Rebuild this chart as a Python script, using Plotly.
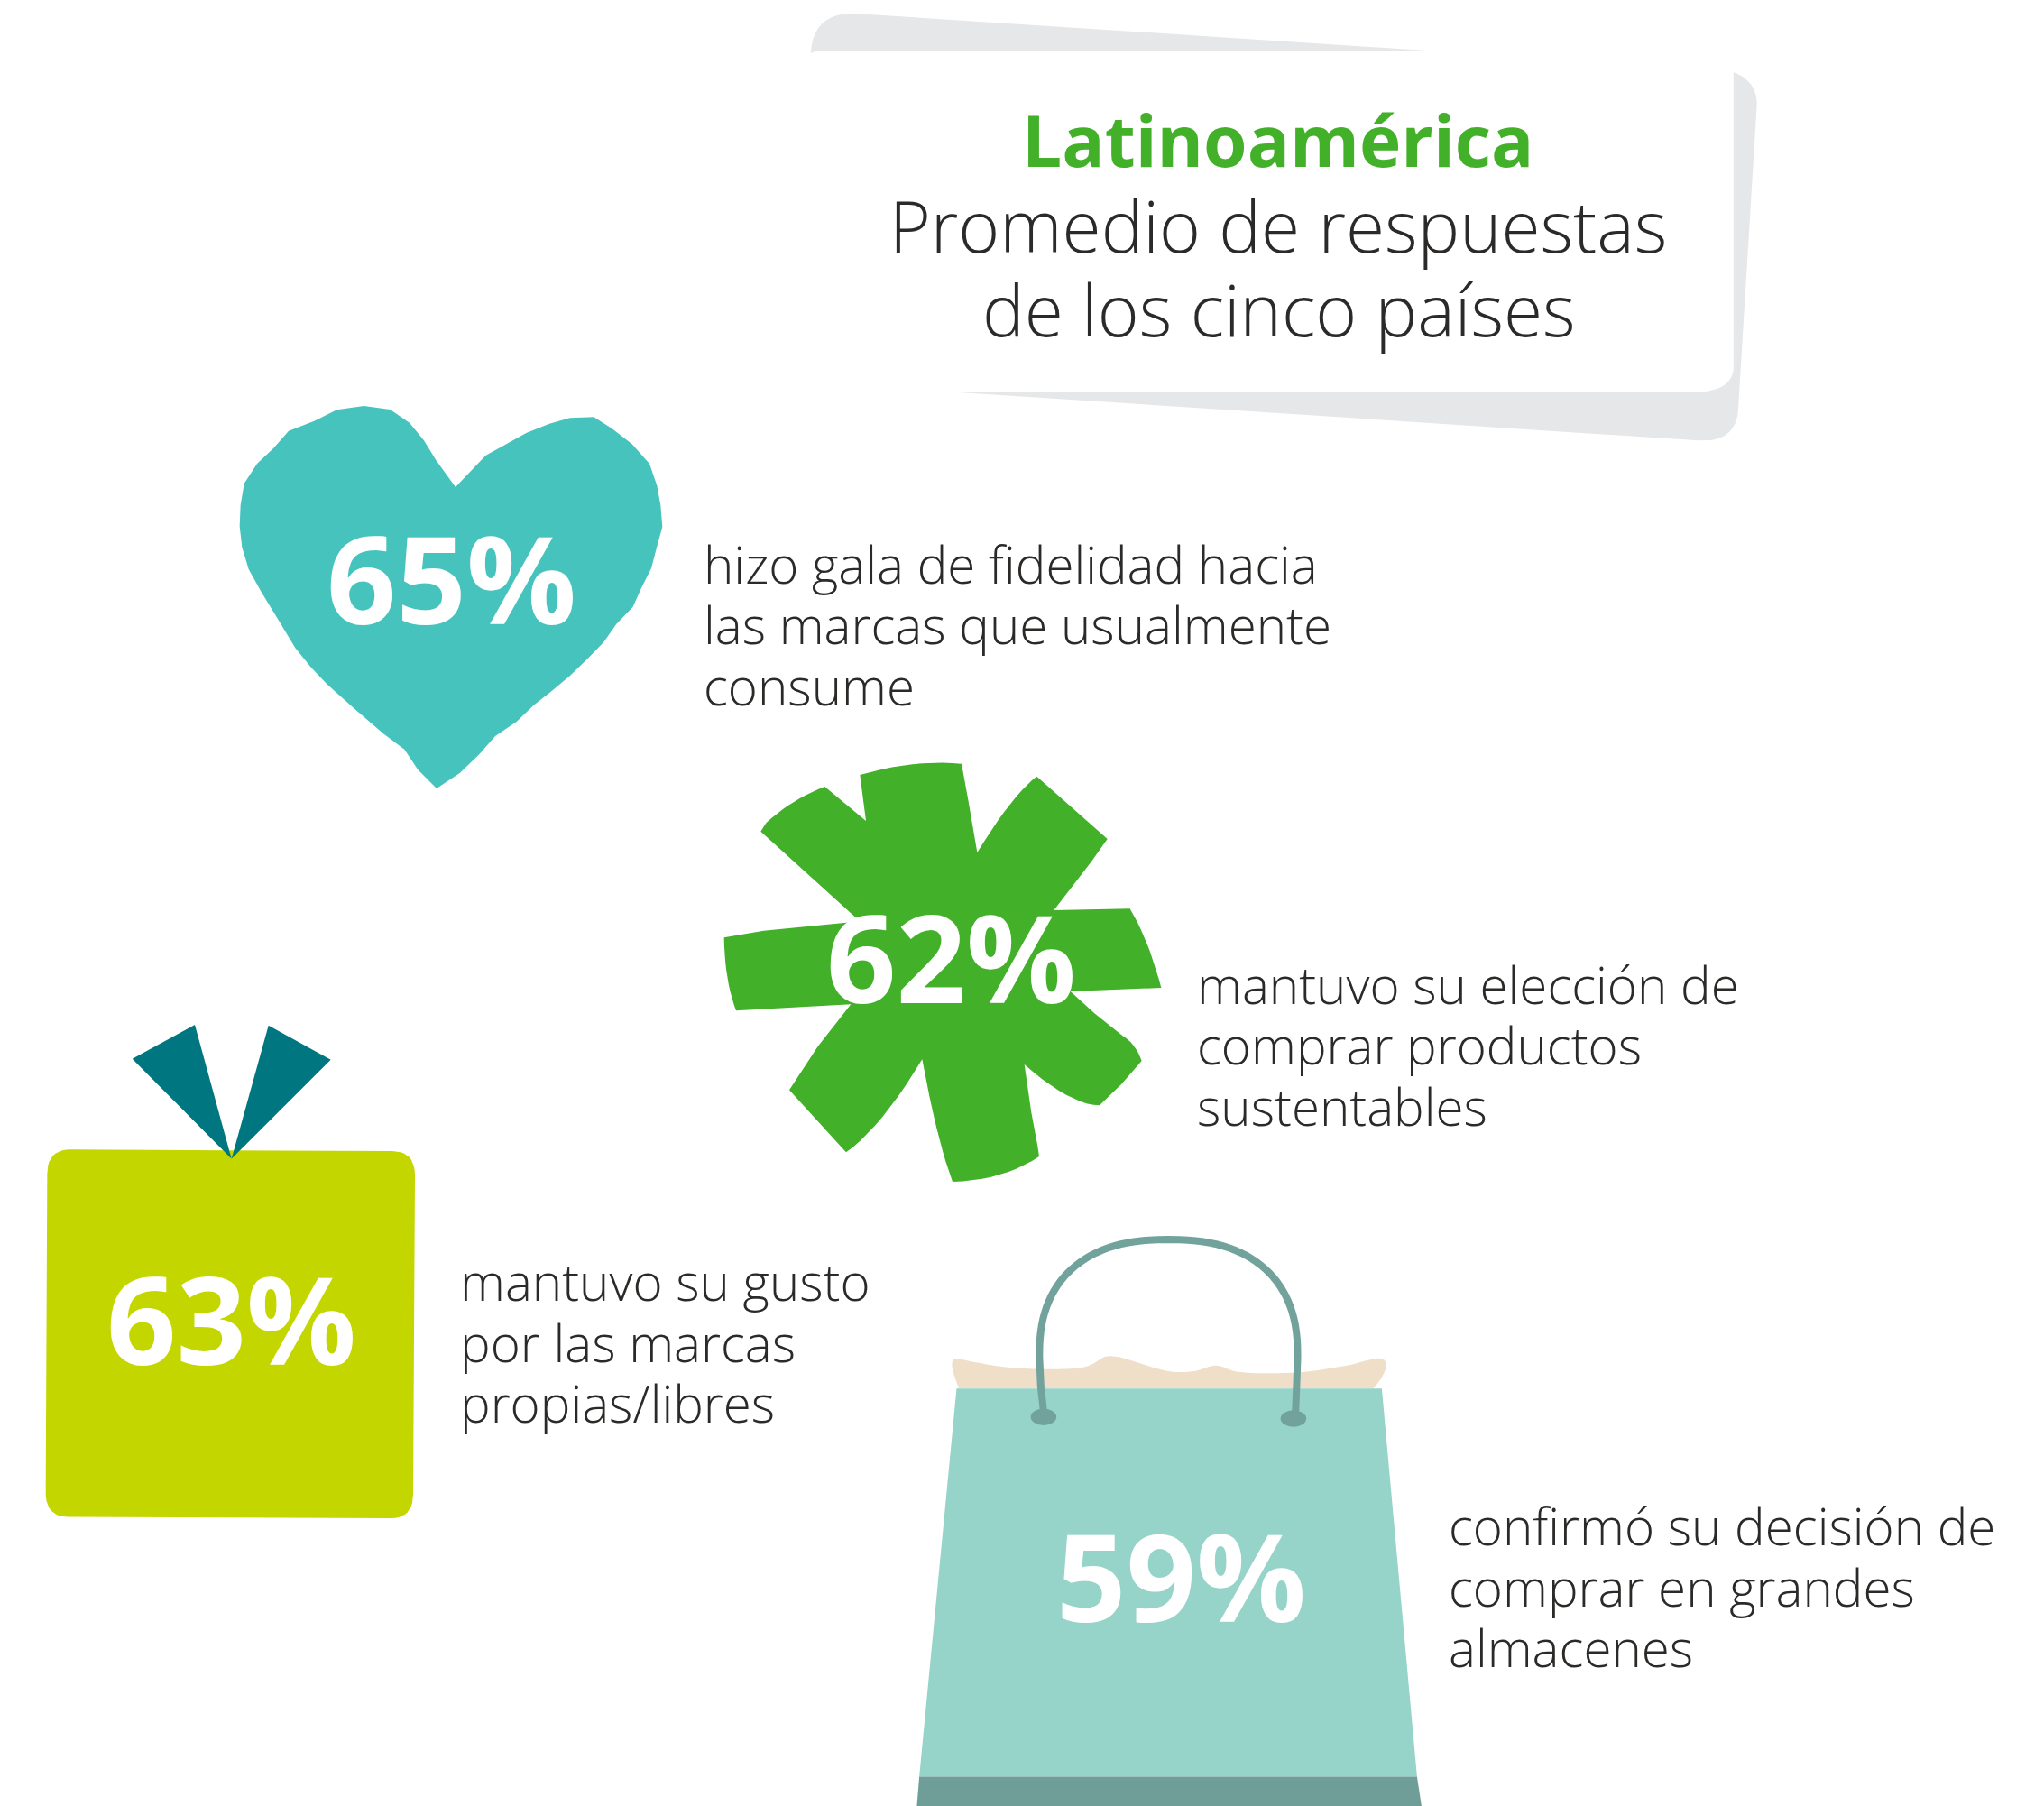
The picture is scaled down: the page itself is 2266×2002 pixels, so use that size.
import math
import plotly.graph_objects as go

W, H = 2266, 2002
FONT = "Open Sans"
INK = "#2b2a29"

# Values
percent_values = [65, 62, 63, 59]
percent_colors = ["#47c3bd", "#43b02a", "#c4d600", "#96d3c9"]
title_head = "Latinoamérica"
title_lines = ["Promedio de respuestas", "de los cinco países"]
captions = [
    ["hizo gala de fidelidad hacia", "las marcas que usualmente", "consume"],
    ["mantuvo su elección de", "comprar productos", "sustentables"],
    ["mantuvo su gusto", "por las marcas", "propias/libres"],
    ["confirmó su decisión de", "comprar en grandes", "almacenes"],
]


def tr(pts, ox, oy, sx, sy):
    return [p[0] / sx + ox for p in pts], [p[1] / sy + oy for p in pts]


def curve(p0, c, p1, n=10):
    """Outline of a soft corner or bowed edge of an illustration."""
    out = []
    for i in range(n + 1):
        t = i / n
        out.append(((1 - t) ** 2 * p0[0] + 2 * t * (1 - t) * c[0] + t ** 2 * p1[0],
                    (1 - t) ** 2 * p0[1] + 2 * t * (1 - t) * c[1] + t ** 2 * p1[1]))
    return out


def arch(cx, cy, rx, ry, power, n=60):
    """Rounded arch of the bag handle."""
    out = []
    for i in range(n + 1):
        a = math.pi * (1 - i / n)
        c, s = math.cos(a), math.sin(a)
        out.append((cx + rx * math.copysign(abs(c) ** (2 / power), c), cy - ry * abs(s) ** (2 / power)))
    return out


# Illustration outlines
CARD = (880, 0, 1568 / 1100, 3)
card_back = (curve((27, 175), (30, 50), (90, 44)) + [(1000, 168)]
             + curve((1485, 240), (1522, 270), (1522, 345))
             + curve((1492, 1375), (1485, 1472), (1430, 1465)) + [(260, 1305)])
card_front = (curve((27, 178), (28, 170), (45, 170)) + [(1000, 168), (1485, 168)]
              + curve((1485, 1230), (1480, 1305), (1420, 1305)) + [(260, 1305), (27, 1305)])

HEART = (250, 430, 3, 3)
heart = [(765,330),(865,225),(1000,150),(1075,120),(1145,100),(1225,97),(1285,135),(1352,187),(1410,252),(1435,325),(1447,390),(1453,462),(1433,535),(1416,600),(1383,665),(1355,728),(1300,785),(1258,845),(1205,900),(1145,958),(1085,1008),(1025,1055),(968,1110),(897,1158),(845,1217),(780,1280),(702,1332),(640,1270),(595,1202),(525,1150),(430,1068),(337,985),(285,930),(232,865),(175,770),(120,680),(77,603),(55,530),(47,460),(50,390),(62,318),(105,252),(160,200),(210,143),(295,110),(370,73),(460,60),(548,72),(612,116),(660,175),(700,240)]

STAR = (780, 830, 3, 3)
star = (curve((520, 87), (700, 35), (858, 50)) + [(880, 170), (910, 345)]
        + curve((910, 345), (1030, 150), (1108, 92)) + [(1343, 300), (1290, 375), (1220, 465), (1165, 537), (1418, 532)]
        + curve((1418, 532), (1480, 635), (1522, 795)) + [(1220, 807), (1300, 880)]
        + curve((1385, 950), (1435, 975), (1457, 1038)) + [(1390, 1115), (1317, 1186)]
        + curve((1317, 1186), (1220, 1185), (1067, 1050)) + [(1090, 1210)]
        + curve((1100, 1270), (1112, 1320), (1116, 1356))
        + curve((1116, 1356), (1000, 1435), (828, 1440))
        + curve((828, 1440), (790, 1340), (752, 1160)) + [(727, 1033)]
        + curve((727, 1033), (590, 1260), (474, 1342)) + [(285, 1135), (380, 990), (490, 850), (108, 871)]
        + curve((108, 871), (70, 770), (68, 628)) + [(200, 605), (490, 577), (510, 565), (190, 275), (208, 247)]
        + curve((208, 247), (290, 170), (403, 126)) + [(540, 240)])

GIFT = (30, 1120, 3, 1568 / 580)
gift_box = (curve((67, 490), (67, 417), (145, 417)) + curve((1215, 422), (1290, 422), (1290, 495))
            + curve((1284, 1450), (1284, 1522), (1210, 1522)) + curve((135, 1518), (62, 1518), (62, 1445)))
ribbon_left = [(350,145),(558,43),(680,445)]
ribbon_right = [(803,45),(1010,148),(680,445)]

BAG = (1000, 1350, 1568 / 600, 1568 / 652)
bag_paper = [(165,455),(145,395),(150,377),(200,383),(300,398),(470,403),(540,395),(590,370),(620,370),(780,410),(850,408),(910,394),(970,410),(1150,412),(1280,395),(1392,376),(1403,393),(1390,425),(1365,455)]
bag_body = [(158,455),(1390,455),(1492,1490),(50,1490)]
bag_base = [(50,1490),(1492,1490),(1505,1568),(43,1568)]
bag_handle = [(410, 515), (402, 450)] + arch(772, 370, 374, 312, 2.4) + [(1143, 450), (1140, 515)]
bag_knots = [(410,531),(1134,535)]

fig = go.Figure()


def poly(pts, frame, color, shape="linear"):
    x, y = tr(pts, *frame)
    fig.add_trace(go.Scatter(x=x, y=y, mode="lines", fill="toself", fillcolor=color,
                             line=dict(width=0, color=color, shape=shape), hoverinfo="skip", showlegend=False))


poly(card_back, CARD, "#e6e7e8")
poly(card_front, CARD, "#ffffff")
poly(heart, HEART, percent_colors[0])
poly(star, STAR, percent_colors[1])
poly(gift_box, GIFT, percent_colors[2])
poly(ribbon_left, GIFT, "#007681")
poly(ribbon_right, GIFT, "#007681")
poly(bag_paper, BAG, "#efdfc9", "spline")
poly(bag_body, BAG, percent_colors[3])
poly(bag_base, BAG, "#6e9e97")

hx, hy = tr(bag_handle, *BAG)
fig.add_trace(go.Scatter(x=hx, y=hy, mode="lines", line=dict(color="#71a29c", width=8, simplify=False),
                         hoverinfo="skip", showlegend=False))
kx, ky = tr(bag_knots, *BAG)
for cx, cy in zip(kx, ky):
    fig.add_shape(type="circle", x0=cx - 14.3, x1=cx + 14.3, y0=cy - 9.2, y1=cy + 9.2,
                  xref="x", yref="y", fillcolor="#71a29c", line_width=0, layer="above")


def label(text, x, baseline, size, color, weight, anchor="left"):
    fig.add_annotation(x=x, y=baseline - 0.388 * size, text=text, showarrow=False, xanchor=anchor, yanchor="middle",
                       xref="x", yref="y", borderpad=0, align=anchor,
                       font=dict(family=FONT, size=size, color=color, weight=weight))


label(title_head, 1416, 185, 78.4, percent_colors[1], 700, "center")
label(title_lines[0], 1417, 280, 78.4, INK, 300, "center")
label(title_lines[1], 1417, 373, 78.4, INK, 300, "center")

pct_pos = [(500, 692), (1054.7, 1112), (256.5, 1513), (1309, 1798)]
for v, (px, py) in zip(percent_values, pct_pos):
    label(f"{v}%", px, py, 135.5, "#ffffff", 700, "center")

cap_pos = [(779, 647), (1326, 1113), (508.5, 1442.5), (1605, 1713.5)]
for lines, (cx, cy) in zip(captions, cap_pos):
    for i, line in enumerate(lines):
        label(line, cx, cy + i * 67.5, 56.5, INK, 300)

fig.update_layout(
    width=W, height=H, margin=dict(l=0, r=0, t=0, b=0),
    paper_bgcolor="#ffffff", plot_bgcolor="#ffffff", showlegend=False,
    xaxis=dict(range=[0, W], visible=False, fixedrange=True),
    yaxis=dict(range=[H, 0], visible=False, fixedrange=True),
)
fig.write_html("out.html", config={"displayModeBar": False},
               post_script="document.body.style.margin='0';")
